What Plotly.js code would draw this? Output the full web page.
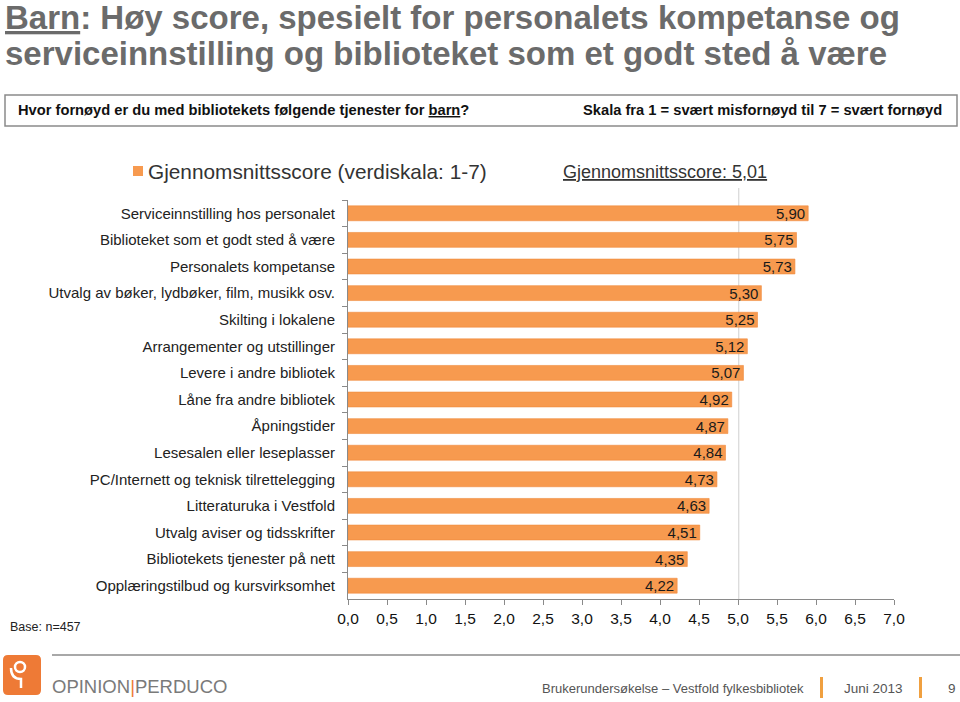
<!DOCTYPE html>
<html>
<head>
<meta charset="utf-8">
<script src="https://cdn.plot.ly/plotly-3.0.1.min.js"></script>
<style>html,body{margin:0;padding:0;background:#fff;}#chart{width:960px;height:702px;}</style>
</head>
<body>
<div id="chart"></div>
<script>
const categories = [
  "Serviceinnstilling hos personalet",
  "Biblioteket som et godt sted å være",
  "Personalets kompetanse",
  "Utvalg av bøker, lydbøker, film, musikk osv.",
  "Skilting i lokalene",
  "Arrangementer og utstillinger",
  "Levere i andre bibliotek",
  "Låne fra andre bibliotek",
  "Åpningstider",
  "Lesesalen eller leseplasser",
  "PC/Internett og teknisk tilrettelegging",
  "Litteraturuka i Vestfold",
  "Utvalg aviser og tidsskrifter",
  "Bibliotekets tjenester på nett",
  "Opplæringstilbud og kursvirksomhet"
];
const scores = [5.90, 5.75, 5.73, 5.30, 5.25, 5.12, 5.07, 4.92, 4.87, 4.84, 4.73, 4.63, 4.51, 4.35, 4.22];
const averageScore = 5.01;
const seriesName = "Gjennomsnittsscore (verdiskala: 1-7)";

// plot area in pixels
const L = 348, R = 894, T = 200, B = 599;
const px = x => (x - L) / (R - L);
const py = y => (B - y) / (B - T);

const SANS = "Liberation Sans, Arial, sans-serif";
const ORANGE = "#F79A4F";
const LOGO = "#EE7A36";

const trace = {
  type: "bar",
  orientation: "h",
  y: categories,
  x: scores,
  name: seriesName,
  width: 0.56,
  marker: {color: ORANGE, line: {color: "#F08A3C", width: 0.6}},
  text: scores.map(v => v.toFixed(2).replace(".", ",")),
  textposition: "inside",
  insidetextanchor: "end",
  textfont: {family: SANS, size: 15, color: "#1a1a1a"},
  constraintext: "none",
  hoverinfo: "skip",
  showlegend: false
};

function ann(text, x, y, opts) {
  return Object.assign({
    text: text, xref: "paper", yref: "paper", x: px(x), y: py(y),
    xanchor: "left", yanchor: "middle", showarrow: false,
    font: {family: SANS, size: 13, color: "#333"}
  }, opts || {});
}

const annotations = [
  ann("<u>Barn</u>: Høy score, spesielt for personalets kompetanse og", 3, 18,
      {font: {family: SANS, size: 33, color: "#6b6b6b", weight: "bold"}}),
  ann("serviceinnstilling og biblioteket som et godt sted å være", 3, 53,
      {font: {family: SANS, size: 33, color: "#6b6b6b", weight: "bold"}}),
  ann("Hvor fornøyd er du med bibliotekets følgende tjenester for <u>barn</u>?", 16, 110,
      {font: {family: SANS, size: 14.7, color: "#111", weight: "bold"}}),
  ann("Skala fra 1 = svært misfornøyd til 7 = svært fornøyd", 944, 110,
      {xanchor: "right", font: {family: SANS, size: 14.7, color: "#111", weight: "bold"}}),
  ann(seriesName, 146, 171, {font: {family: SANS, size: 20.8, color: "#333"}}),
  ann("<u>Gjennomsnittsscore: 5,01</u>", 561, 172, {font: {family: SANS, size: 18, color: "#333"}}),
  ann("Base: n=457", 8, 627, {font: {family: SANS, size: 12.5, color: "#222"}}),
  ann('OPINION<span style="color:' + LOGO + '">|</span>PERDUCO', 50, 686,
      {font: {family: SANS, size: 18.5, color: "#7a7a7a"}}),
  ann("Brukerundersøkelse – Vestfold fylkesbibliotek", 540, 688,
      {font: {family: SANS, size: 13, color: "#555"}}),
  ann("Juni 2013", 842, 688, {font: {family: SANS, size: 13.5, color: "#555"}}),
  ann("9", 946, 688, {font: {family: SANS, size: 13.5, color: "#555"}})
];

function rectPx(x0, y0, x1, y1, opts) {
  return Object.assign({type: "rect", xref: "paper", yref: "paper",
    x0: px(x0), x1: px(x1), y0: py(y0), y1: py(y1)}, opts);
}

const shapes = [
  {type: "line", xref: "x", yref: "paper", x0: averageScore, x1: averageScore, y0: 0, y1: py(188),
   line: {color: "#cfcfcf", width: 1}, layer: "below"},
  rectPx(5, 95, 957, 126, {line: {color: "#8a8a8a", width: 1.5}, fillcolor: "rgba(0,0,0,0)"}),
  rectPx(133, 166, 143, 176, {line: {width: 0}, fillcolor: ORANGE}),
  {type: "line", xref: "paper", yref: "paper", x0: px(52), x1: px(960), y0: py(655), y1: py(655),
   line: {color: "#a8a8a8", width: 2}},
  rectPx(820, 677, 823, 698, {line: {width: 0}, fillcolor: "#F0A040"}),
  rectPx(919, 677, 922, 698, {line: {width: 0}, fillcolor: "#F0A040"}),
  // logo
  {type: "path", xref: "paper", yref: "paper",
   path: (() => {
     const x0 = 3, x1 = 41, y0 = 655, y1 = 695, r = 5;
     const X = v => px(v), Y = v => py(v);
     return "M" + X(x0 + r) + "," + Y(y0) + " L" + X(x1 - r) + "," + Y(y0) +
       " Q" + X(x1) + "," + Y(y0) + " " + X(x1) + "," + Y(y0 + r) +
       " L" + X(x1) + "," + Y(y1 - r) + " Q" + X(x1) + "," + Y(y1) + " " + X(x1 - r) + "," + Y(y1) +
       " L" + X(x0 + r) + "," + Y(y1) + " Q" + X(x0) + "," + Y(y1) + " " + X(x0) + "," + Y(y1 - r) +
       " L" + X(x0) + "," + Y(y0 + r) + " Q" + X(x0) + "," + Y(y0) + " " + X(x0 + r) + "," + Y(y0) + " Z";
   })(),
   fillcolor: LOGO, line: {width: 0}},
  {type: "circle", xref: "paper", yref: "paper", x0: px(15), x1: px(25), y0: py(662), y1: py(672),
   line: {color: "#fff", width: 2.5}, fillcolor: "rgba(0,0,0,0)"},
  {type: "path", xref: "paper", yref: "paper",
   path: "M" + px(11) + "," + py(668) + " Q" + px(11) + "," + py(679) + " " + px(21) + "," + py(679) +
         " L" + px(21) + "," + py(688),
   line: {color: "#fff", width: 2.5}}
];

const layout = {
  width: 960, height: 702,
  margin: {l: L, r: 960 - R, t: T, b: 702 - B, pad: 0},
  paper_bgcolor: "#fff", plot_bgcolor: "#fff",
  separators: ",.",
  font: {family: SANS, color: "#333"},
  bargap: 0.44,
  xaxis: {
    range: [0, 7], dtick: 0.5, tick0: 0, tickformat: ".1f",
    ticks: "outside", ticklen: 5, tickcolor: "#8a8a8a", tickwidth: 1,
    showline: true, linecolor: "#8a8a8a", linewidth: 1,
    showgrid: false, zeroline: false, fixedrange: true,
    tickfont: {family: SANS, size: 15.5, color: "#111"}
  },
  yaxis: {
    type: "category", autorange: "reversed",
    ticks: "outside", tickson: "boundaries", ticklen: 5, tickcolor: "#8a8a8a",
    showline: true, linecolor: "#8a8a8a", linewidth: 1,
    showgrid: false, zeroline: false, fixedrange: true,
    ticklabelstandoff: 9,
    tickfont: {family: SANS, size: 15, color: "#222"}
  },
  annotations: annotations,
  shapes: shapes,
  showlegend: false
};

Plotly.newPlot("chart", [trace], layout, {displayModeBar: false, staticPlot: true});
</script>
</body>
</html>
